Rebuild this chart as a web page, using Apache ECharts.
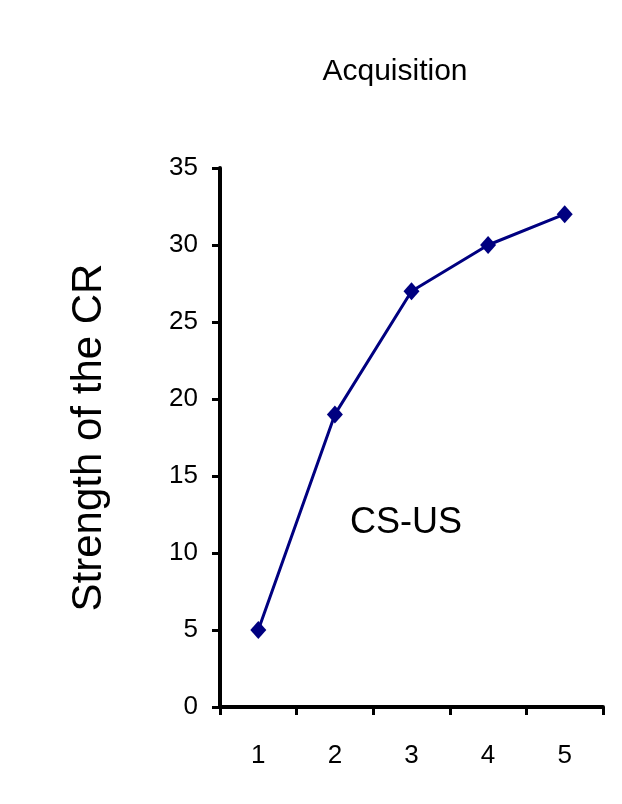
<!DOCTYPE html>
<html><head><meta charset="utf-8">
<script src="https://cdn.jsdelivr.net/npm/echarts@6/dist/echarts.min.js"></script>
<style>html,body{margin:0;padding:0;background:#fff}#c{width:622px;height:804px}</style>
</head><body><div id="c"></div>
<script>
const categories = ['1','2','3','4','5'];
const values = [5, 19, 27, 30, 32];
const yTicks = [0,5,10,15,20,25,30,35];
const chart = echarts.init(document.getElementById('c'));
const font = 'Liberation Sans, Arial, sans-serif';
chart.setOption({
  backgroundColor:'#fff',
  animation:false,
  title:{text:'Acquisition',left:390,top:52,textAlign:'center',textStyle:{fontFamily:font,fontSize:30,fontWeight:'normal',color:'#000'}},
  grid:{left:220,right:19,top:168,bottom:97},
  xAxis:{type:'category',data:categories,boundaryGap:true,
    axisLine:{lineStyle:{color:'#000',width:4}},
    axisTick:{show:true,length:8,inside:false,lineStyle:{color:'#000',width:3}},
    axisLabel:{margin:36,fontFamily:font,fontSize:26,color:'#000'}},
  yAxis:{type:'value',min:0,max:35,interval:5,
    name:'Strength of the CR',nameLocation:'middle',nameGap:110,nameRotate:90,
    nameTextStyle:{fontFamily:font,fontSize:42,color:'#000'},
    axisLine:{show:true,lineStyle:{color:'#000',width:4}},
    axisTick:{show:true,length:8,lineStyle:{color:'#000',width:3}},
    splitLine:{show:false},
    axisLabel:{margin:22,fontFamily:font,fontSize:26,color:'#000'}},
  graphic:[{type:'text',left:350,top:505,style:{text:'CS-US',font:'36px '+font,fill:'#000'}}],
  series:[{type:'line',data:values,symbol:'diamond',symbolSize:[16,18],
    lineStyle:{color:'#000080',width:3},itemStyle:{color:'#000080'}}]
});
</script></body></html>
